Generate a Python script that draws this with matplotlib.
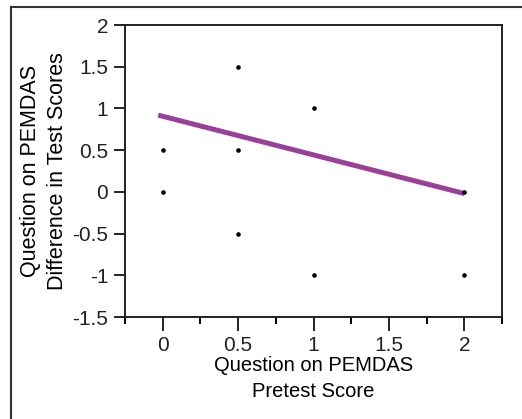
import matplotlib.pyplot as plt
from matplotlib.lines import Line2D
from matplotlib.ticker import MultipleLocator

plt.rcParams['font.family'] = ['Liberation Sans', 'DejaVu Sans']

# pretest score vs. difference in test scores
pretest = [0, 0, 0.5, 0.5, 0.5, 1, 1, 2, 2]
difference = [0.5, 0, 1.5, 0.5, -0.5, 1, -1, 0, -1]

# fitted line
fit_x = [-0.03, 2.0]
fit_y = [0.92, -0.02]

x_ticks = [0, 0.5, 1, 1.5, 2]
x_labels = ["0", "0.5", "1", "1.5", "2"]
y_ticks = [-1.5, -1, -0.5, 0, 0.5, 1, 1.5, 2]
y_labels = ["-1.5", "-1", "-0.5", "0", "0.5", "1", "1.5", "2"]

fig = plt.figure(figsize=(5.22, 4.19), dpi=100)
ax = fig.add_axes([0.2395, 0.2434, 0.7222, 0.6969])

ax.plot(fit_x, fit_y, color="#9a3f9a", lw=3.6, solid_capstyle="butt", zorder=2)
ax.plot(pretest, difference, "o", color="black", ms=2.3, zorder=3)

ax.set_xlim(-0.25, 2.25)
ax.set_ylim(-1.5, 2)
ax.set_xticks(x_ticks)
ax.set_xticklabels(x_labels)
ax.set_yticks(y_ticks)
ax.set_yticklabels(y_labels)
ax.xaxis.set_minor_locator(MultipleLocator(0.25))

for s in ax.spines.values():
    s.set_linewidth(1.4)
    s.set_color("#222222")

ax.tick_params(axis="x", which="major", direction="out", length=10, width=1.4,
               pad=4, labelsize=15, colors="#222222")
ax.tick_params(axis="x", which="minor", direction="out", length=5, width=1.4)
ax.tick_params(axis="y", which="major", direction="out", length=8, width=1.4,
               pad=4, labelsize=15, colors="#222222")

ax.set_xlabel("Question on PEMDAS\nPretest Score", fontsize=14.5, linespacing=1.45)
ax.set_ylabel("Question on PEMDAS\nDifference in Test Scores", fontsize=15.5, linespacing=1.35)
ax.xaxis.set_label_coords(0.5, -0.135)
ax.yaxis.set_label_coords(-0.152, 0.5)

# outer frame of the figure
fig.add_artist(Line2D([11 / 522, 11 / 522], [0, 1 - 7 / 419], transform=fig.transFigure,
                      color="#333333", lw=1.5))
fig.add_artist(Line2D([11 / 522, 1], [1 - 7 / 419, 1 - 7 / 419], transform=fig.transFigure,
                      color="#333333", lw=1.5))

fig.savefig("out.png", dpi=100)
